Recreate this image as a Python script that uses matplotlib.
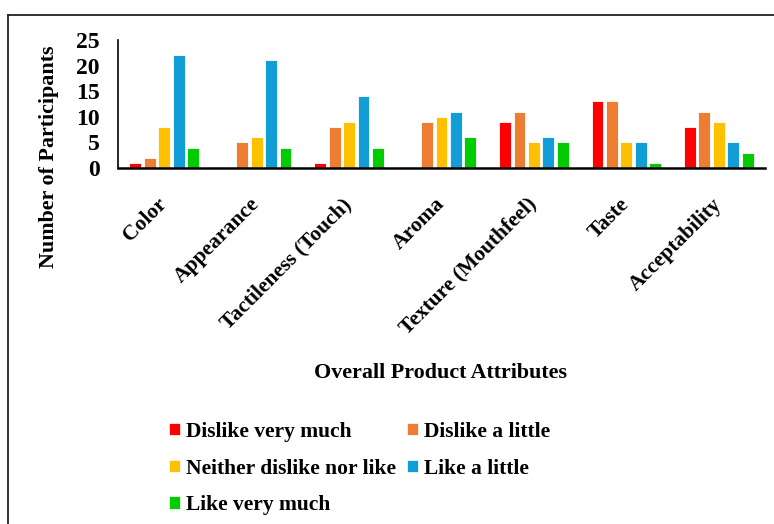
import matplotlib.pyplot as plt
from matplotlib.patches import Patch
from matplotlib.lines import Line2D
import numpy as np

attributes = ['Color', 'Appearance', 'Tactileness (Touch)', 'Aroma',
              'Texture (Mouthfeel)', 'Taste', 'Acceptability']
dislike_very_much = [1, 0, 1, 0, 9, 13, 8]
dislike_a_little = [2, 5, 8, 9, 11, 13, 11]
neither = [8, 6, 9, 10, 5, 5, 9]
like_a_little = [22, 21, 14, 11, 6, 5, 5]
like_very_much = [4, 4, 4, 6, 5, 1, 3]

series = [
    ('Dislike very much', dislike_very_much, '#ff0000'),
    ('Dislike a little', dislike_a_little, '#ed7d31'),
    ('Neither dislike nor like', neither, '#ffc000'),
    ('Like a little', like_a_little, '#119ed6'),
    ('Like very much', like_very_much, '#00cc00'),
]

plt.rcParams['font.family'] = 'Liberation Serif'
plt.rcParams['font.weight'] = 'bold'

W, H = 774, 524
fig = plt.figure(figsize=(W / 100, H / 100), dpi=100)
ax = fig.add_axes([118 / W, 1 - 168 / H, (765 - 118) / W, (168 - 40) / H])

x = np.arange(len(attributes))
step = 0.156
width = 0.128
for ii, (name, vals, col) in enumerate(series):
    ax.bar(x + (ii - 2) * step, vals, width, color=col, edgecolor='white',
           linewidth=0.6, label=name, zorder=2)

ax.set_xlim(-0.5, len(attributes) - 0.5)
ax.set_ylim(0, 25)
ax.set_yticks(range(0, 26, 5))
ax.tick_params(axis='y', length=0, labelsize=17, pad=13)
ax.tick_params(axis='x', length=0, labelsize=15.5, pad=24)
ax.set_xticks(x)
ax.set_xticklabels(attributes, rotation=45, ha='right', va='center',
                   rotation_mode='anchor')

for side in ['top', 'right']:
    ax.spines[side].set_visible(False)
ax.spines['left'].set_linewidth(1.2)
ax.spines['bottom'].set_linewidth(1.8)
ax.spines['bottom'].set_zorder(3)

fig.text(49 / W, 1 - 157 / H, 'Number of Participants', rotation=90,
         ha='center', va='center', fontsize=15.8, fontweight='bold')
fig.text(441 / W, 1 - 373 / H, 'Overall Product Attributes',
         ha='center', va='center', fontsize=15.8, fontweight='bold')

# row-wise legend order for two columns
order = [0, 2, 4, 1, 3]
handles = [Patch(facecolor=series[i][2], edgecolor='white', linewidth=0.5) for i in order]
labels = [series[i][0] for i in order]
fig.legend(handles, labels, loc='upper left', bbox_to_anchor=(169 / W, 1 - 422 / H),
           ncol=2, frameon=False, borderpad=0, borderaxespad=0,
           handlelength=0.5, handleheight=0.5, handletextpad=0.3,
           labelspacing=0.77, columnspacing=0.5,
           prop={'weight': 'bold', 'size': 15.5})

# outer frame, top and left edges
fig.add_artist(Line2D([8 / W, 1], [1 - 15 / H, 1 - 15 / H], color='#222222', lw=1.3))
fig.add_artist(Line2D([8 / W, 8 / W], [0, 1 - 15 / H], color='#222222', lw=1.3))

fig.savefig('out.png', dpi=100)
